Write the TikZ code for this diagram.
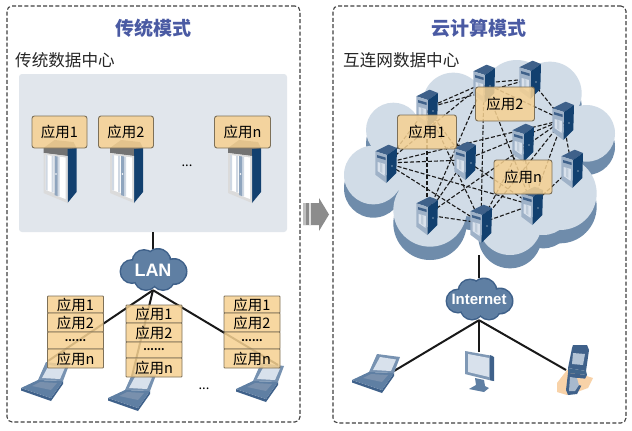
\documentclass[tikz,border=0pt]{standalone}
\usepackage{fontspec}
\setmainfont{Noto Sans CJK SC}
\newfontfamily\latinb{Liberation Sans}
\usetikzlibrary{calc}
\definecolor{orangebox}{HTML}{F6D192}
\definecolor{orangeedge}{HTML}{7D7058}
\definecolor{titleblue}{HTML}{4A5AA3}
\definecolor{panelgrey}{HTML}{E1E6EC}
\definecolor{cloudface}{HTML}{D1DCE7}
\definecolor{cloudshade}{HTML}{6F8CAB}
\definecolor{navy}{HTML}{12406F}
\definecolor{steel}{HTML}{5F7FA3}
\definecolor{steeldark}{HTML}{3F618A}
\definecolor{steellight}{HTML}{D8E1EC}
\definecolor{peach}{HTML}{F8D2A8}
\tikzset{
  frame/.style={draw=black!75,line width=1.1pt,dash pattern=on 4pt off 2.2pt,rounded corners=5pt},
  appbox/.style={draw=orangeedge,line width=.9pt,fill=orangebox,fill opacity=.86,text opacity=1,rounded corners=2.5pt,minimum width=55pt,minimum height=32pt,inner sep=0pt,font=\fontsize{14.5}{14}\selectfont},
  rowbox/.style={draw=orangeedge,line width=.9pt,fill=orangebox,fill opacity=.86,text opacity=1,rounded corners=.8pt,minimum width=56pt,inner sep=0pt,font=\fontsize{14.5}{14}\selectfont},
  dotrow/.style={rowbox,font=\fontsize{10}{10}\selectfont\bfseries},
  link/.style={draw=black!90,line width=2pt},
  mesh/.style={draw=black!90,line width=1.1pt,dash pattern=on 4pt off 2pt},
  heading/.style={text=titleblue,font=\fontsize{19}{19}\selectfont\bfseries,inner sep=0pt},
  sublabel/.style={text=black!85,font=\fontsize{16.6}{16}\selectfont,inner sep=0pt,anchor=west},
  cloudtext/.style={text=white,inner sep=0pt,font=\latinb\bfseries},
  pics/rack/.style={code={
    \fill[black!55] (0,-5) -- (11,-13) -- (30,-11) -- (33,-5) -- (24,3) -- (0,0) -- cycle;
    \fill[navy] (24,-4) -- (33,-5) -- (33,39) -- (24,50) -- cycle;
    \fill[black!14] (0,0) -- (24,3) -- (24,50) -- (0,40) -- cycle;
    \fill[white] (2,2) -- (11,3) -- (11,40) -- (2,37) -- cycle;
    \fill[white] (14,3.5) -- (22,4.5) -- (22,46) -- (14,43) -- cycle;
    \fill[steel!30] (2,2) -- (4,2.3) -- (4,37.6) -- (2,37) -- cycle;
    \fill[steel!30] (8,2.7) -- (10,3) -- (10,39.5) -- (8,39) -- cycle;
    \fill[steel!30] (14,3.5) -- (16,3.7) -- (16,43.5) -- (14,43) -- cycle;
    \fill[steel!70] (11,3) -- (14,3.5) -- (14,43) -- (11,42) -- cycle;
    \fill[white] (12.5,21) circle[radius=.8pt];
  }},
  pics/laptop/.style={code={
    \fill[steel!85] (7,-18) -- (30,-15) -- (24,1) -- (-1,0) -- cycle;
    \fill[steellight] (10,-15) -- (26,-12.5) -- (21,-1) -- (3,-2) -- cycle;
    \fill[steeldark] (-18,8) -- (12,18) -- (24,1) -- (24,4) -- (12,21) -- (-18,10.5) -- cycle;
    \fill[steel] (-18,8) -- (-1,0) -- (24,1) -- (12,18) -- cycle;
    \fill[steeldark!70] (-7,6) -- (1,2) -- (18,3) -- (12,10) -- cycle;
  }},
  pics/server/.style={code={
    \fill[steeldark] (-10.7,-11.7) -- (2.6,-18.3) -- (11,-15) -- (1,-8) -- cycle;
    \fill[navy] (1,-8) -- (11,-15) -- (10.3,10) -- (.3,20) -- cycle;
    \fill[steel!60] (-10.7,-11.7) -- (1,-8) -- (.3,20) -- (-10.7,11.7) -- cycle;
    \fill[steellight] (-8.5,-1) -- (-1,1) -- (-1.3,13) -- (-8.5,8) -- cycle;
    \fill[steel!40] (-6,0) -- (-3.5,.7) -- (-3.7,10) -- (-6,8.5) -- cycle;
    \fill[steeldark] (-9,-8) -- (-.5,-5.5) -- (-.5,-3) -- (-9,-5.5) -- cycle;
    \fill[white] (6,3) circle[radius=.6pt];
  }},
}
\newcommand{\smallcloud}[2]{%
  \foreach \a/\b/\r in {-21/2/11,-9/-8/11,5/-8/12,21/2/12,10/9/11,-7/9/11,0/0/16}
    \fill[#2] ($(#1)+(\a,\b)$) circle[radius=\r pt+1.5pt];
  \foreach \a/\b/\r in {-21/2/11,-9/-8/11,5/-8/12,21/2/12,10/9/11,-7/9/11,0/0/16}
    \fill[steel] ($(#1)+(\a,\b)$) circle[radius=\r pt];
}
\begin{document}
\begin{tikzpicture}[x=1pt,y=-1pt]
\useasboundingbox (0,0) rectangle (632,431);
\fill[white] (0,0) rectangle (632,431);

% frames
\node[frame,minimum width=293pt,minimum height=416pt,inner sep=0pt] (leftframe) at (153.5,214) {};
\node[frame,minimum width=293pt,minimum height=417pt,inner sep=0pt] (rightframe) at (479.5,214.5) {};
\node[heading] (lefthead) at (153,28) {传统模式};
\node[heading] (righthead) at (479,28) {云计算模式};
\node[sublabel] (leftsub) at (15,60) {传统数据中心};
\node[sublabel] (rightsub) at (343,60) {互连网数据中心};

% data centre panel
\node[fill=panelgrey,rounded corners=3pt,minimum width=268pt,minimum height=158pt,inner sep=0pt] (dcpanel) at (153,153) {};
\pic at (43.5,153) {rack};
\pic at (110,153) {rack};
\pic at (228,153) {rack};
\node[appbox] (appa) at (59.5,132) {应用1};
\node[appbox] (appb) at (126,132) {应用2};
\node[appbox,minimum width=56pt] (appc) at (242.5,132) {应用n};
\node[inner sep=0pt,font=\fontsize{13}{13}\selectfont] (dotsa) at (187,166) {...};

% LAN
\node[minimum width=68pt,minimum height=41pt,inner sep=0pt] (lan) at (153,269.5) {};
\draw[link] (dcpanel.south) -- (lan.north);
\smallcloud{lan}{steeldark}
\node[cloudtext,font=\latinb\bfseries\fontsize{18}{18}\selectfont] (lantext) at (153,270) {LAN};

% clients, left
\coordinate (laptopa) at (39,380);
\coordinate (laptopb) at (126,390);
\coordinate (laptopc) at (254,381);
\pic at (laptopa) {laptop};
\pic at (laptopb) {laptop};
\pic at (laptopc) {laptop};
\coordinate (porta) at (48,361);
\coordinate (portb) at (132,376);
\coordinate (portc) at (278,365);
\draw[link] (lan.south) -- (porta);
\draw[link] (lan.south) -- (portb);
\draw[link] (lan.south) -- (portc);
% stacks
\node[rowbox,minimum height=17pt] (a1) at (75.5,304.5) {应用1};
\node[rowbox,minimum height=19pt] (a2) at (75.5,322.5) {应用2};
\node[dotrow,minimum height=17pt] (a3) at (75.5,340.5) {......};
\node[rowbox,minimum height=19pt] (a4) at (75.5,358.5) {应用n};
\node[rowbox,minimum height=18pt] (b1) at (154,314) {应用1};
\node[rowbox,minimum height=19pt] (b2) at (154,332.5) {应用2};
\node[dotrow,minimum height=16pt] (b3) at (154,350) {......};
\node[rowbox,minimum height=19pt] (b4) at (154,367.5) {应用n};
\node[rowbox,minimum height=17pt] (c1) at (252,304.5) {应用1};
\node[rowbox,minimum height=19pt] (c2) at (252,322.5) {应用2};
\node[dotrow,minimum height=17pt] (c3) at (252,340.5) {......};
\node[rowbox,minimum height=19pt] (c4) at (252,358.5) {应用n};
\node[inner sep=0pt,font=\fontsize{13}{13}\selectfont] (dotsb) at (204,389) {...};

% big cloud
\foreach \dy/\col in {40/cloudshade,0/cloudface}{
  \fill[\col] ({330+370/3},{50+(160+\dy)/3}) -- ({330+560/3},{50+(130+\dy)/3}) -- ({330+660/3},{50+(130+\dy)/3}) -- ({330+770/3},{50+(250+\dy)/3}) -- ({330+690/3},{50+(430+\dy)/3}) -- ({330+540/3},{50+(520+\dy)/3}) -- ({330+300/3},{50+(480+\dy)/3}) -- ({330+130/3},{50+(375+\dy)/3}) -- ({330+190/3},{50+(240+\dy)/3}) -- cycle;
  \foreach \x/\y/\r in {370/160/92,560/130/100,660/130/95,770/250/85,190/240/82,130/375/88,690/430/110,640/470/85,540/520/95,300/480/110}
    \fill[\col] ({330+\x/3},{50+(\y+\dy)/3}) circle[radius={\r/3*1pt}];
}
\node[minimum width=260pt,minimum height=198pt,inner sep=0pt] (netcloud) at (479,156) {};

% servers
\coordinate (s1) at (427,108);
\coordinate (s2) at (484,83);
\coordinate (s3) at (530,79);
\coordinate (s4) at (563,120);
\coordinate (s5) at (523,142);
\coordinate (s6) at (465,160);
\coordinate (s7) at (386,163);
\coordinate (s8) at (572,168);
\coordinate (s9) at (532,205);
\coordinate (s10) at (427,215);
\coordinate (s11) at (481,223);
\foreach \p/\q in {s7/s1,s7/s2,s7/s6,s7/s9,s7/s11,s7/s4,s1/s2,s1/s3,s1/s6,s1/s11,s2/s3,s2/s4,s2/s10,s2/s11,s2/s9,s3/s4,s4/s8,s4/s9,s4/s10,s4/s11,s4/s6,s8/s9,s9/s11,s10/s11,s10/s6,s10/s1,s5/s11,s5/s9,s6/s9}
  \draw[mesh] (\p) -- (\q);
\foreach \s in {s1,s2,s3,s4,s5,s6,s7,s8,s9,s10,s11}
  \pic at (\s) {server};
\node[appbox,minimum width=59pt,minimum height=34pt] (ra) at (427,132) {应用1};
\node[appbox,minimum width=59pt,minimum height=34pt] (rb) at (505,104) {应用2};
\node[appbox,minimum width=58pt,minimum height=34pt] (rc) at (523,177) {应用n};

% Internet
\node[minimum width=70pt,minimum height=42pt,inner sep=0pt] (inet) at (479,299) {};
\draw[link] (netcloud.south) -- (inet.north);
\smallcloud{inet}{steeldark}
\node[cloudtext,font=\latinb\bfseries\fontsize{15}{15}\selectfont] (inettext) at (479,299) {Internet};

% clients, right
\coordinate (rlaptop) at (370,372);
\coordinate (rlaptopport) at (394,371);
\coordinate (monitor) at (479,352);
\coordinate (phoneport) at (566,370);
\draw[link] (inet.south) -- (rlaptopport);
\draw[link] (inet.south) -- (monitor);
\draw[link] (inet.south) -- (phoneport);
\pic at (rlaptop) {laptop};
% monitor
\fill[steel] (475,378) -- (484,380) -- (485,386) -- (489,388) -- (484,392) -- (469,389) -- (476,385) -- cycle;
\fill[steel!80] (465,351) -- (493,356) -- (493,381) -- (465,374) -- cycle;
\fill[steeldark] (490,355) -- (494,357) -- (494,381) -- (490,380) -- cycle;
\fill[steellight] (468,354) -- (489,358) -- (489,377) -- (468,372) -- cycle;
% phone
\fill[peach] (557,383) -- (567,370) -- (593,378) -- (588,388) -- (577,392) -- (567,395) -- (557,392) -- cycle;
\fill[steeldark] (573,345) -- (587,345) -- (589,350) -- (586,371) -- (568,368) -- (572,348) -- cycle;
\fill[steellight!70!steel] (573,353) -- (585,354) -- (583,365) -- (572,364) -- cycle;
\fill[navy!80] (568,368) -- (586,371) -- (587,375) -- (568,373) -- cycle;
\fill[steeldark] (568,373) -- (587,375) -- (577,394) -- (568,395) -- (566,390) -- cycle;
\fill[steel!55] (570,377) -- (583,379) -- (575,391) -- (569,391) -- cycle;
\fill[peach] (577,378) -- (590,379) -- (586,387) -- (579,385) -- cycle;

% centre arrow
\fill[black!45] (303,203) -- (319,203) -- (319,198) -- (329,214.5) -- (319,231) -- (319,225) -- (303,225) -- cycle;
\fill[black!25] (303,203) rectangle (306,225);
\fill[black!12] (309,203) rectangle (311,225);
\end{tikzpicture}
\end{document}
